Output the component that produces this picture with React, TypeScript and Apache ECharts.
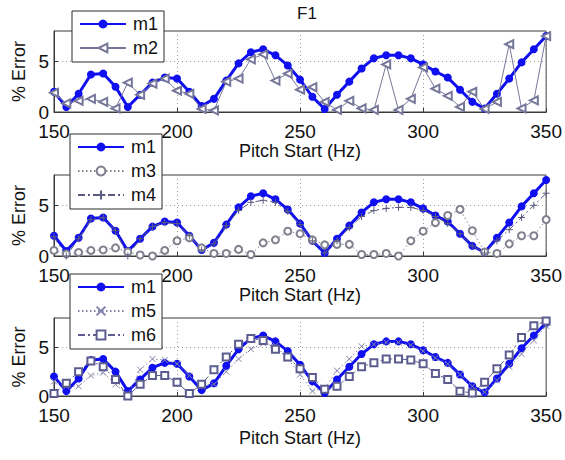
import React, { useEffect, useRef } from "react";
import * as echarts from "echarts";

const pitch = [150, 155, 160, 165, 170, 175, 180, 185, 190, 195, 200, 205, 210, 215, 220, 225, 230, 235, 240, 245, 250, 255, 260, 265, 270, 275, 280, 285, 290, 295, 300, 305, 310, 315, 320, 325, 330, 335, 340, 345, 350];

const m1 = [2.0, 0.5, 1.8, 3.7, 3.8, 2.5, 0.5, 1.7, 2.9, 3.4, 3.3, 2.0, 0.6, 1.3, 3.1, 4.8, 5.9, 6.2, 5.6, 4.6, 3.2, 1.5, 0.3, 1.7, 3.0, 4.3, 5.3, 5.6, 5.6, 5.3, 4.7, 4.0, 3.4, 2.2, 1.0, 0.35, 1.8, 3.3, 4.9, 6.2, 7.5];
const m2 = [1.9, 0.85, 1.1, 1.3, 1.0, 0.35, 2.9, 1.7, 2.8, 3.3, 2.1, 1.8, 0.3, 0.15, 3.0, 3.3, 5.2, 5.7, 3.1, 3.8, 2.2, 2.45, 1.0, 0.2, 1.1, 0.35, 0.2, 4.7, 0.2, 1.3, 4.4, 2.3, 1.6, 0.5, 2.0, 0.3, 1.0, 6.7, 0.35, 1.15, 7.5];
const m3 = [0.55, 0.2, 0.35, 0.55, 0.6, 0.8, 0.4, 0.1, 0.0, 0.55, 1.5, 1.8, 0.8, 0.25, 0.25, 0.65, 0.15, 1.3, 1.6, 2.45, 2.2, 1.6, 1.1, 1.15, 1.15, 0.15, 0.15, 0.25, 0.0, 1.5, 2.45, 3.3, 4.0, 4.6, 2.5, 0.4, 0.25, 1.2, 2.0, 2.0, 3.6];
const m4 = [1.9, 0.0, 1.7, 3.6, 3.8, 2.5, 0.0, 1.7, 2.9, 3.3, 3.2, 2.0, 0.6, 1.2, 3.0, 4.5, 5.3, 5.5, 5.3, 4.4, 3.1, 1.5, 0.3, 1.5, 2.8, 3.9, 4.5, 4.7, 4.8, 4.8, 4.5, 3.9, 3.2, 2.2, 1.0, 0.3, 1.5, 2.6, 3.8, 5.0, 6.2];
const m5 = [1.5, 1.0, 1.0, 2.1, 2.4, 1.2, 0.1, 2.7, 3.8, 3.7, 3.3, 2.1, 1.0, 1.2, 2.5, 3.8, 4.8, 5.4, 5.2, 3.8, 2.2, 0.5, 0.8, 2.6, 3.8, 5.1, 5.3, 5.5, 5.5, 5.2, 4.6, 3.9, 3.3, 2.2, 1.0, 0.4, 1.6, 3.0, 4.3, 5.7, 7.2];
const m6 = [0.25, 1.3, 2.5, 3.6, 3.0, 1.7, 0.0, 1.2, 2.1, 2.1, 1.4, 0.25, 1.2, 2.7, 4.0, 5.3, 5.9, 5.7, 4.8, 4.0, 2.8, 1.9, 0.7, 1.0, 2.0, 3.0, 3.4, 3.8, 3.8, 3.7, 3.3, 2.3, 1.7, 0.5, 0.3, 1.4, 2.8, 4.2, 6.0, 7.2, 7.7];

const xTicks = [150, 200, 250, 300, 350];
const yTicks = [0, 5];
const panelLegends = [["m1", "m2"], ["m1", "m3", "m4"], ["m1", "m5", "m6"]];
const titleText = "F1";
const xName = "Pitch Start (Hz)";
const yName = "% Error";

const FONT = "Liberation Sans, Arial, Helvetica, sans-serif";
const BLUE = "#0f0ff0";

const gridBoxes = [
  { top: 31, height: 81, nameGap: 30, legendTop: 11, legendLeft: 72 },
  { top: 175, height: 81, nameGap: 30, legendTop: 134, legendLeft: 70 },
  { top: 318, height: 78, nameGap: 33, legendTop: 274, legendLeft: 70 },
];

const styles: Record<string, any> = {
  m1: { color: BLUE, symbol: "circle", symbolSize: 8, lineWidth: 3, type: "solid" },
  m2: { color: "#76769a", symbol: "emptyTriangle", symbolSize: 8, symbolRotate: 90, lineWidth: 1, type: "solid" },
  m3: { color: "#80808e", symbol: "emptyCircle", symbolSize: 7, lineWidth: 1, type: [1.5, 2.5] },
  m4: { color: "#5c5c80", symbol: "path://M5,0L5,10M0,5L10,5", symbolSize: 7, lineWidth: 1, type: [7, 3, 2, 3], path: true },
  m5: { color: "#8282aa", symbol: "path://M0,0L10,10M10,0L0,10", symbolSize: 6, lineWidth: 1, type: [1.5, 2.5], path: true },
  m6: { color: "#5c5c90", symbol: "emptyRect", symbolSize: 7, lineWidth: 1, type: [7, 3, 2, 3] },
};

const seriesData: Record<string, number[]> = { m1, m2, m3, m4, m5, m6 };

function makeSeries(name: string, g: number) {
  const s = styles[name];
  const vals = seriesData[name];
  return {
    type: "line",
    name,
    xAxisIndex: g,
    yAxisIndex: g,
    data: pitch.map((x, i) => [x, vals[i]]),
    symbol: s.symbol,
    symbolSize: s.symbolSize,
    symbolRotate: s.symbolRotate || 0,
    showAllSymbol: true,
    lineStyle: { color: s.color, width: s.lineWidth, type: s.type },
    itemStyle: s.path
      ? { color: "rgba(0,0,0,0)", borderColor: s.color, borderWidth: 1 }
      : { color: s.color, borderColor: s.color, borderWidth: name === "m1" ? 0 : 0.9 },
    emphasis: { disabled: true },
    z: name === "m1" ? 2 : 3,
  };
}

export default function App() {
  const ref = useRef<HTMLDivElement>(null);
  useEffect(() => {
    if (!ref.current) return;
    const chart = echarts.init(ref.current, undefined, { renderer: "svg" });
    const grid = gridBoxes.map((b) => ({
      left: 54,
      width: 496,
      top: b.top,
      height: b.height,
      show: true,
      borderColor: "#3a3a3a",
      borderWidth: 1,
      backgroundColor: "#ffffff",
    }));
    const xAxis = gridBoxes.map((b, g) => ({
      type: "value",
      gridIndex: g,
      min: xTicks[0],
      max: xTicks[xTicks.length - 1],
      interval: xTicks[1] - xTicks[0],
      name: xName,
      nameLocation: "middle",
      nameGap: b.nameGap,
      nameTextStyle: { fontFamily: FONT, fontSize: 18, color: "#111" },
      axisLine: { show: true, lineStyle: { color: "#3a3a3a", width: 1 } },
      axisTick: { show: true, inside: true, length: 4, lineStyle: { color: "#3a3a3a" } },
      axisLabel: { fontFamily: FONT, fontSize: 19, color: "#111", margin: 10, lineHeight: 19 },
      splitLine: { show: true, lineStyle: { color: "#9a9a9a", type: [1, 3], width: 1 } },
    }));
    const yAxis = gridBoxes.map((b, g) => ({
      type: "value",
      gridIndex: g,
      min: yTicks[0],
      max: 8,
      interval: yTicks[1] - yTicks[0],
      name: yName,
      nameLocation: "middle",
      nameGap: 24,
      nameRotate: 90,
      nameTextStyle: { fontFamily: FONT, fontSize: 18, color: "#111" },
      axisLine: { show: true, lineStyle: { color: "#3a3a3a", width: 1 } },
      axisTick: { show: true, inside: true, length: 4, lineStyle: { color: "#3a3a3a" } },
      axisLabel: { fontFamily: FONT, fontSize: 19, color: "#111", margin: 5, showMaxLabel: false, verticalAlign: "middle", lineHeight: 18, padding: [0, 0, 5, 0] },
      splitLine: { show: true, lineStyle: { color: "#9a9a9a", type: [1, 3], width: 1 } },
    }));
    const legend = gridBoxes.map((b, g) => ({
      data: panelLegends[g],
      orient: "vertical",
      left: b.legendLeft,
      top: b.legendTop,
      padding: [4, 6, 5, 7],
      itemWidth: 46,
      itemHeight: 11,
      itemGap: 6,
      backgroundColor: "#ffffff",
      borderColor: "#2a2a2a",
      borderWidth: 1,
      borderRadius: 0,
      selectedMode: false,
      textStyle: { fontFamily: FONT, fontSize: 18, color: "#111", padding: [0, 0, 0, 2] },
    }));
    const series: any[] = [];
    panelLegends.forEach((names, g) => {
      names.forEach((n) => series.push(makeSeries(n, g)));
    });
    chart.setOption({
      animation: false,
      backgroundColor: "#ffffff",
      title: {
        text: titleText,
        left: 302,
        textAlign: "center",
        top: 0,
        textStyle: { fontFamily: FONT, fontSize: 17, fontWeight: "normal", color: "#111" },
      },
      grid,
      xAxis,
      yAxis,
      legend,
      series,
    });
    return () => chart.dispose();
  }, []);
  return (
    <div
      ref={ref}
      style={{ position: "absolute", left: 0, top: 0, width: 565, height: 460, background: "#fff" }}
    />
  );
}
